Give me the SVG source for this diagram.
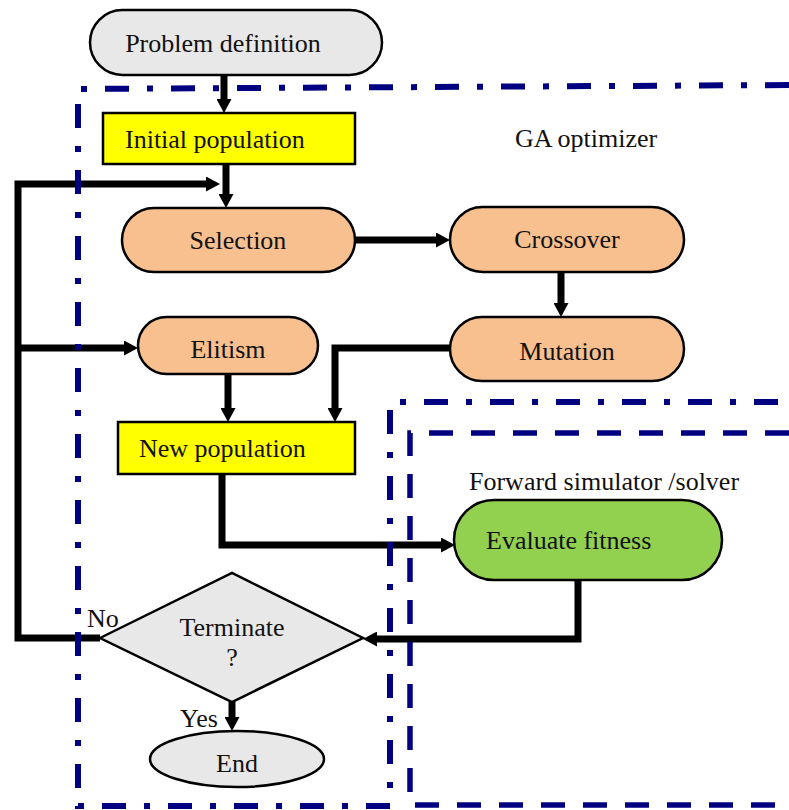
<svg xmlns="http://www.w3.org/2000/svg" width="789" height="810" viewBox="0 0 789 810">
<style>
.t{font-family:"Liberation Serif","Times New Roman",serif;font-size:26px;fill:#111}
.m{text-anchor:middle}
.sh{stroke:#000;stroke-width:2.5}
.grey{fill:#e8e8e8}
.org{fill:#f8bf8f}
.yel{fill:#ffff00}
.grn{fill:#92d050}
.c{fill:none;stroke:#000;stroke-width:7;stroke-linejoin:miter;stroke-linecap:butt}
.ga{fill:none;stroke:#000080;stroke-width:6;stroke-dasharray:24 18 6 18}
.fs{fill:none;stroke:#000080;stroke-width:5.5;stroke-dasharray:24 18}
</style>
<defs>
<marker id="ah" viewBox="0 0 14 15" refX="0" refY="7.5" markerWidth="14" markerHeight="15" markerUnits="userSpaceOnUse" orient="auto">
<path d="M0,0 L14,7.5 L0,15 z" fill="#000"/>
</marker>
</defs>
<rect width="789" height="810" fill="#fff"/>
<g id="connectors">
<path class="c" d="M224 75 L224 99" marker-end="url(#ah)"/>
<path class="c" d="M226 164 L226 194" marker-end="url(#ah)"/>
<path class="c" d="M100 638 L18 638 L18 184 L206 184" marker-end="url(#ah)"/>
<path class="c" d="M18 348 L124 348" marker-end="url(#ah)"/>
<path class="c" d="M355 240 L436 240" marker-end="url(#ah)"/>
<path class="c" d="M561 272 L561 303" marker-end="url(#ah)"/>
<path class="c" d="M452 348 L335 348 L335 408" marker-end="url(#ah)"/>
<path class="c" d="M228 374 L228 408" marker-end="url(#ah)"/>
<path class="c" d="M222 474 L222 545 L441 545" marker-end="url(#ah)"/>
<path class="c" d="M578 580 L578 639 L377 639" marker-end="url(#ah)"/>
<path class="c" d="M232 702 L232 717" marker-end="url(#ah)"/>
</g>
<g id="ga-optimizer-box">
<path class="ga" d="M789 85 L78 89 L78 806 L390 806 L390 402 L789 402"/>
<text class="t" x="515" y="147">GA optimizer</text>
</g>
<g id="forward-solver-box">
<path class="fs" d="M789 433 L410 433 L410 805 L789 805"/>
<text class="t" x="469" y="490">Forward simulator /solver</text>
</g>
<g id="problem-definition">
<rect class="sh grey" x="90" y="10" width="292" height="65" rx="32.5"/>
<text class="t m" x="223" y="52">Problem definition</text>
</g>
<g id="initial-population">
<rect class="sh yel" x="103" y="113" width="252" height="51"/>
<text class="t" x="125" y="148">Initial population</text>
</g>
<g id="selection">
<rect class="sh org" x="122" y="208" width="233" height="64" rx="32"/>
<text class="t m" x="238" y="249">Selection</text>
</g>
<g id="crossover">
<rect class="sh org" x="450" y="207" width="234" height="65" rx="32.5"/>
<text class="t m" x="567" y="248">Crossover</text>
</g>
<g id="mutation">
<rect class="sh org" x="450" y="317" width="234" height="64" rx="32"/>
<text class="t m" x="567" y="360">Mutation</text>
</g>
<g id="elitism">
<rect class="sh org" x="138" y="317" width="180" height="57" rx="28.5"/>
<text class="t m" x="228" y="358">Elitism</text>
</g>
<g id="new-population">
<rect class="sh yel" x="118" y="422" width="237" height="52"/>
<text class="t" x="139" y="457">New population</text>
</g>
<g id="evaluate-fitness">
<rect class="sh grn" x="454" y="500" width="268" height="80" rx="40"/>
<text class="t" x="486" y="549">Evaluate fitness</text>
</g>
<g id="terminate">
<polygon class="sh grey" points="100,638 232,573 363,638 232,702"/>
<text class="t m" x="232" y="636">Terminate</text>
<text class="t m" x="232" y="666">?</text>
<text class="t" x="87" y="627">No</text>
<text class="t" x="180" y="727">Yes</text>
</g>
<g id="end">
<ellipse class="sh grey" cx="237" cy="759" rx="87" ry="28"/>
<text class="t m" x="237" y="772">End</text>
</g>
</svg>
